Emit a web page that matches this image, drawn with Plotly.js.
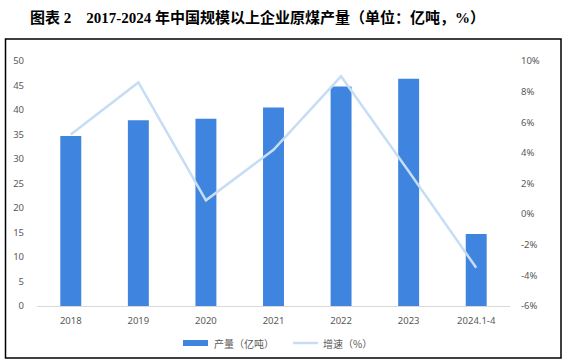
<!DOCTYPE html>
<html>
<head>
<meta charset="utf-8">
<script src="https://cdn.plot.ly/plotly-3.0.1.min.js"></script>
<style>html,body{margin:0;padding:0;background:#fff;}#chart{width:568px;height:363px;}</style>
</head>
<body>
<div id="chart"></div>
<script>
const categories = ['2018', '2019', '2020', '2021', '2022', '2023', '2024.1-4'];
const output = [34.7, 37.9, 38.2, 40.5, 44.8, 46.4, 14.7];
const growth = [5.2, 8.6, 0.9, 4.2, 9.0, 2.8, -3.5];
const y2TickVals = [-6, -4, -2, 0, 2, 4, 6, 8, 10];
const y2TickText = ['-6%', '-4%', '-2%', '0%', '2%', '4%', '6%', '8%', '10%'];
const titleText = '图表 2　2017-2024 年中国规模以上企业原煤产量（单位：亿吨，%）';
const barName = '产量（亿吨）';
const lineName = '增速（%）';

const W = 568, H = 363;
const L = 37, R = 58, T = 61, B = 57;
const pw = W - L - R, ph = H - T - B;
const px = x => (x - L) / pw;
const py = y => (H - B - y) / ph;

const tickFont = {family: 'Noto Sans, Liberation Sans, sans-serif', size: 9.5, color: '#595959'};
const barColor = '#3f84de';
const lineColor = '#c6ddf5';

const traces = [
  {type: 'bar', x: categories, y: output, name: barName, marker: {color: barColor}, width: 0.31, yaxis: 'y'},
  {type: 'scatter', mode: 'lines', x: categories, y: growth, name: lineName, line: {color: lineColor, width: 2.5}, yaxis: 'y2'}
];

const layout = {
  width: W, height: H,
  margin: {l: L, r: R, t: T, b: B, pad: 0},
  paper_bgcolor: '#fff', plot_bgcolor: '#fff',
  showlegend: false,
  xaxis: {type: 'category', showgrid: false, zeroline: false, showline: true, linecolor: '#d9d9d9', linewidth: 1,
          ticks: '', tickfont: tickFont, ticklabelstandoff: 6, fixedrange: true},
  yaxis: {range: [0, 50], dtick: 5, showgrid: false, zeroline: false, showline: false, ticks: '',
          tickfont: tickFont, ticklabelstandoff: 12, fixedrange: true},
  yaxis2: {overlaying: 'y', side: 'right', range: [-6, 10], tickvals: y2TickVals, ticktext: y2TickText,
           showgrid: false, zeroline: false, showline: false, ticks: '', tickfont: tickFont,
           ticklabelstandoff: 10, fixedrange: true},
  annotations: [
    {xref: 'paper', yref: 'paper', x: px(257), y: py(18), text: '<b>' + titleText + '</b>', showarrow: false,
     xanchor: 'center', yanchor: 'middle',
     font: {family: 'Liberation Serif, Noto Sans CJK SC, serif', size: 15, color: '#000'}},
    {xref: 'paper', yref: 'paper', x: px(212), y: py(343), text: barName, showarrow: false,
     xanchor: 'left', yanchor: 'middle', font: {family: 'Noto Sans CJK SC, sans-serif', size: 10, color: '#595959'}},
    {xref: 'paper', yref: 'paper', x: px(321), y: py(343), text: lineName, showarrow: false,
     xanchor: 'left', yanchor: 'middle', font: {family: 'Noto Sans CJK SC, sans-serif', size: 10, color: '#595959'}}
  ],
  shapes: [
    {type: 'rect', xref: 'paper', yref: 'paper', x0: px(5.5), x1: px(561), y0: py(39), y1: py(358),
     line: {color: '#000', width: 1.5}, fillcolor: 'rgba(0,0,0,0)'},
    {type: 'rect', xref: 'paper', yref: 'paper', x0: px(183), x1: px(208), y0: py(340), y1: py(346),
     line: {width: 0}, fillcolor: barColor},
    {type: 'line', xref: 'paper', yref: 'paper', x0: px(293), x1: px(318), y0: py(343), y1: py(343),
     line: {color: lineColor, width: 2.5}}
  ]
};

Plotly.newPlot('chart', traces, layout, {displayModeBar: false, staticPlot: true});
</script>
</body>
</html>
